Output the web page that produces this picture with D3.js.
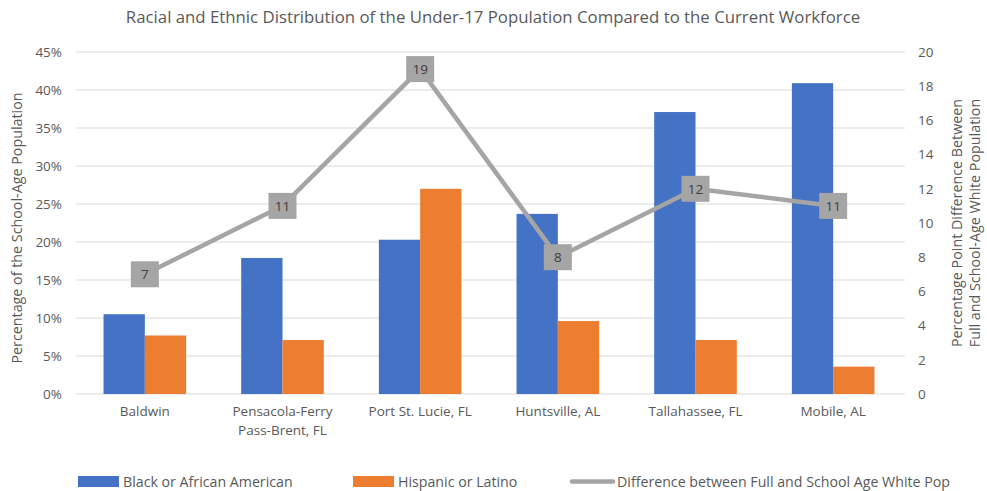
<!DOCTYPE html>
<html>
<head>
<meta charset="utf-8">
<script src="https://cdn.jsdelivr.net/npm/d3@7"></script>
<style>
  html, body { margin: 0; padding: 0; background: #fff; }
  svg { display: block; font-family: "Open Sans", "Liberation Sans", sans-serif; }
</style>
</head>
<body>
<svg id="chart" width="987" height="491"></svg>
<script>
// Cities / regions compared
const categories = ["Baldwin", "Pensacola-Ferry Pass-Brent, FL", "Port St. Lucie, FL", "Huntsville, AL", "Tallahassee, FL", "Mobile, AL"];
const categoryLines = [["Baldwin"], ["Pensacola-Ferry", "Pass-Brent, FL"], ["Port St. Lucie, FL"], ["Huntsville, AL"], ["Tallahassee, FL"], ["Mobile, AL"]];
// Share of the school-age population (%)
const blackShare = [10.5, 17.9, 20.3, 23.7, 37.1, 40.9];
const hispanicShare = [7.7, 7.1, 27.0, 9.6, 7.1, 3.6];
// Percentage-point gap, full vs school-age white population
const whiteGap = [7, 11, 19, 8, 12, 11];
const leftTicks = [0, 5, 10, 15, 20, 25, 30, 35, 40, 45];
const rightTicks = [0, 2, 4, 6, 8, 10, 12, 14, 16, 18, 20];
const seriesNames = ["Black or African American", "Hispanic or Latino", "Difference between Full and School Age White Pop"];

const colors = { black: "#4472c4", hispanic: "#ed7d31", gap: "#a5a5a5", text: "#595959", grid: "#d9d9d9" };

const svg = d3.select("#chart");
const plot = { left: 76, right: 902, top: 52, bottom: 394 };

const x = d3.scaleBand().domain(categories).range([plot.left, plot.right]).paddingInner(0.4).paddingOuter(0.2);
const x0 = d3.scaleBand().domain(categories).range([plot.left, plot.right]);
const sub = d3.scaleBand().domain(["black", "hispanic"]).range([0, x.bandwidth()]);
const yL = d3.scaleLinear().domain([0, 45]).range([plot.bottom, plot.top]);
const yR = d3.scaleLinear().domain([0, 20]).range([plot.bottom, plot.top]);

// Title
svg.append("text")
  .attr("x", 493).attr("y", 23)
  .attr("text-anchor", "middle")
  .attr("font-size", 16.8)
  .attr("fill", colors.text)
  .text("Racial and Ethnic Distribution of the Under-17 Population Compared to the Current Workforce");

// Gridlines
svg.append("g").selectAll("line").data(leftTicks).join("line")
  .attr("x1", plot.left).attr("x2", plot.right + 3)
  .attr("y1", d => yL(d)).attr("y2", d => yL(d))
  .attr("stroke", colors.grid).attr("stroke-width", 1);

// Left axis
const leftAxis = svg.append("g").attr("transform", `translate(${plot.left},0)`)
  .call(d3.axisLeft(yL).tickValues(leftTicks).tickFormat(d => d + "%").tickSize(0).tickPadding(14));
leftAxis.select(".domain").remove();
leftAxis.selectAll("text").attr("font-size", 13.5).attr("fill", colors.text).attr("font-family", "Open Sans, sans-serif");

// Right axis
const rightAxis = svg.append("g").attr("transform", `translate(${plot.right},0)`)
  .call(d3.axisRight(yR).tickValues(rightTicks).tickSize(0).tickPadding(16));
rightAxis.select(".domain").remove();
rightAxis.selectAll("text").attr("font-size", 13.5).attr("fill", colors.text).attr("font-family", "Open Sans, sans-serif");

// Bars
const groups = svg.append("g").selectAll("g").data(categories).join("g")
  .attr("transform", d => `translate(${x0(d) + x0.bandwidth() / 2 - x.bandwidth() / 2},0)`);
groups.append("rect")
  .attr("x", 0).attr("width", sub.bandwidth())
  .attr("y", (d, i) => yL(blackShare[i]))
  .attr("height", (d, i) => yL(0) - yL(blackShare[i]))
  .attr("fill", colors.black);
groups.append("rect")
  .attr("x", sub.bandwidth()).attr("width", sub.bandwidth())
  .attr("y", (d, i) => yL(hispanicShare[i]))
  .attr("height", (d, i) => yL(0) - yL(hispanicShare[i]))
  .attr("fill", colors.hispanic);

// Category labels
const catLabels = svg.append("g").selectAll("text").data(categories).join("text")
  .attr("x", d => x0(d) + x0.bandwidth() / 2)
  .attr("y", 416)
  .attr("text-anchor", "middle")
  .attr("font-size", 13.5)
  .attr("fill", colors.text);
catLabels.each(function(d, i) {
  d3.select(this).selectAll("tspan").data(categoryLines[i]).join("tspan")
    .attr("x", x0(d) + x0.bandwidth() / 2)
    .attr("dy", (t, j) => j === 0 ? 0 : 19)
    .text(t => t);
});

// Gap line
const cx = (d, i) => x0(categories[i]) + x0.bandwidth() / 2;
const line = d3.line().x((d, i) => cx(d, i)).y(d => yR(d));
svg.append("path").datum(whiteGap)
  .attr("d", line)
  .attr("fill", "none")
  .attr("stroke", colors.gap)
  .attr("stroke-width", 4.5)
  .attr("stroke-linejoin", "round");

// Value labels on the line
const lab = svg.append("g").selectAll("g").data(whiteGap).join("g")
  .attr("transform", (d, i) => `translate(${cx(d, i)},${yR(d)})`);
lab.append("rect").attr("x", -14).attr("y", -13).attr("width", 28).attr("height", 26).attr("fill", colors.gap);
lab.append("text").attr("text-anchor", "middle").attr("dy", "0.36em")
  .attr("font-size", 13.5).attr("fill", "#404040").text(d => d);

// Axis titles
svg.append("text")
  .attr("transform", `translate(22,${(plot.top + plot.bottom) / 2 + 5}) rotate(-90)`)
  .attr("text-anchor", "middle").attr("font-size", 14.3).attr("fill", colors.text)
  .text("Percentage of the School-Age Population");
const rt = svg.append("text")
  .attr("transform", `translate(962,${(plot.top + plot.bottom) / 2}) rotate(-90)`)
  .attr("text-anchor", "middle").attr("font-size", 14.3).attr("fill", colors.text);
rt.append("tspan").attr("x", 0).attr("dy", 0).text("Percentage Point Difference Between");
rt.append("tspan").attr("x", 0).attr("dy", 18).text("Full and School-Age White Population");

// Legend
const legend = svg.append("g").attr("font-size", 14.2).attr("fill", colors.text);
const legendItems = [
  { name: seriesNames[0], x: 78, type: "rect", color: colors.black },
  { name: seriesNames[1], x: 353, type: "rect", color: colors.hispanic },
  { name: seriesNames[2], x: 572, type: "line", color: colors.gap }
];
legendItems.forEach(it => {
  if (it.type === "rect") {
    legend.append("rect").attr("x", it.x).attr("y", 476).attr("width", 41).attr("height", 11).attr("fill", it.color);
  } else {
    legend.append("line").attr("x1", it.x).attr("x2", it.x + 41).attr("y1", 481.5).attr("y2", 481.5)
      .attr("stroke", it.color).attr("stroke-width", 4.5).attr("stroke-linecap", "round");
  }
  legend.append("text").attr("x", it.x + 45).attr("y", 487).text(it.name);
});
</script>
</body>
</html>
